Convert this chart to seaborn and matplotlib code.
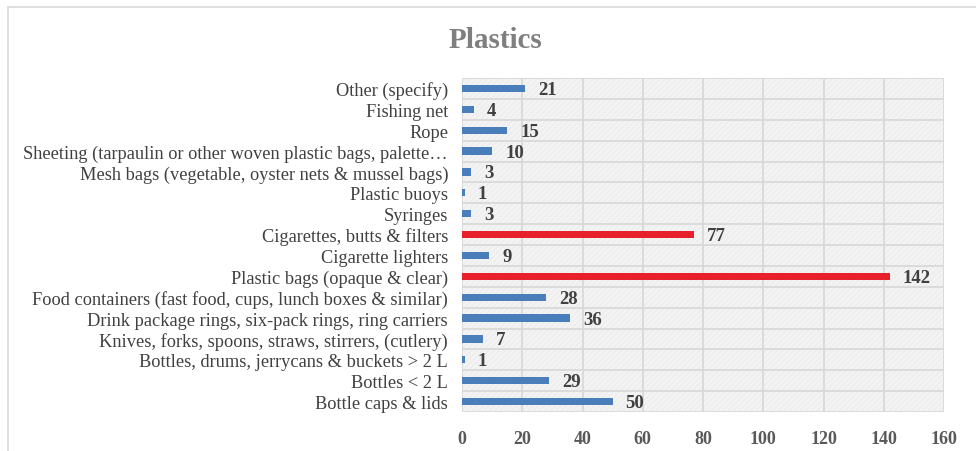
import numpy as np
import pandas as pd
import matplotlib
matplotlib.use('Agg')
import matplotlib.pyplot as plt
import seaborn as sns
from matplotlib.patches import Rectangle

# --- data (top to bottom as shown) ---
categories = [
    "Other (specify)",
    "Fishing net",
    "Rope",
    "Sheeting (tarpaulin or other woven plastic bags, palette\u2026",
    "Mesh bags (vegetable, oyster nets & mussel bags)",
    "Plastic buoys",
    "Syringes",
    "Cigarettes, butts & filters",
    "Cigarette lighters",
    "Plastic bags (opaque & clear)",
    "Food containers (fast food, cups, lunch boxes & similar)",
    "Drink package rings, six-pack rings, ring carriers",
    "Knives, forks, spoons, straws, stirrers, (cutlery)",
    "Bottles, drums, jerrycans & buckets > 2 L",
    "Bottles < 2 L",
    "Bottle caps & lids",
]
counts = [21, 4, 15, 10, 3, 1, 3, 77, 9, 142, 28, 36, 7, 1, 29, 50]
highlight = ["no", "no", "no", "no", "no", "no", "no", "yes", "no", "yes",
             "no", "no", "no", "no", "no", "no"]
x_ticks = [0, 20, 40, 60, 80, 100, 120, 140, 160]

df = pd.DataFrame({"cat": categories, "n": counts, "hl": highlight})

sns.set_theme(style="white")
plt.rcParams['font.family'] = ['Liberation Serif', 'DejaVu Serif']
plt.rcParams['hatch.linewidth'] = 0.4

fig = plt.figure(figsize=(9.76, 4.52), dpi=100)
# outer frame of the chart box
fig.patches.append(Rectangle((8 / 976, -0.1), 1.2, 1 - 8 / 452 + 0.1, transform=fig.transFigure,
                             fill=False, edgecolor='#d9d9d9', linewidth=1.2))

ax = fig.add_axes([462 / 976, 1 - 413 / 452, (944 - 462) / 976, (413 - 79) / 452])
ax.set_facecolor('#f3f3f3')
ax.add_patch(Rectangle((0, 0), 1, 1, transform=ax.transAxes, facecolor='none',
                       edgecolor='#e6e6e6', hatch='//////', linewidth=0, zorder=0))

sns.barplot(data=df, x="n", y="cat", hue="hl", palette={"no": "#4a7ebb", "yes": "#e8202a"},
            order=categories, width=0.35, saturation=1, linewidth=0, legend=False, ax=ax, zorder=3)

for i, v in enumerate(counts):
    ax.text(v + 4.3, i + 0.05, str(v), va='center', ha='left', fontsize=13.5, fontweight='bold',
            color='#404040', zorder=4)

ax.set_xlim(0, 160)
ax.set_ylim(len(categories) - 0.5, -0.5)
ax.set_xticks(x_ticks)
ax.set_xticklabels([str(t) for t in x_ticks], fontsize=13, fontweight='bold', color='#595959')
ax.set_yticks(range(len(categories)))
ax.set_yticklabels(categories, fontsize=13.2, color='#404040')
ax.set_yticks(np.arange(-0.5, len(categories), 1), minor=True)
ax.tick_params(axis='y', which='major', length=0, pad=10)
ax.tick_params(axis='y', which='minor', length=6, color='#d9d9d9', width=1)
ax.tick_params(axis='x', length=0, pad=13)
ax.grid(True, axis='x', color='#d9d9d9', linewidth=1.3, zorder=1)
ax.grid(True, axis='y', which='minor', color='#d9d9d9', linewidth=1.3, zorder=1)
ax.set_axisbelow(True)
for s in ax.spines.values():
    s.set_visible(False)
ax.set_xlabel("")
ax.set_ylabel("")

fig.text(495 / 976, 1 - 41 / 452, "Plastics", ha='center', va='center', fontsize=21,
         fontweight='bold', color='#7f7f7f')

fig.savefig("out.png", dpi=100)
